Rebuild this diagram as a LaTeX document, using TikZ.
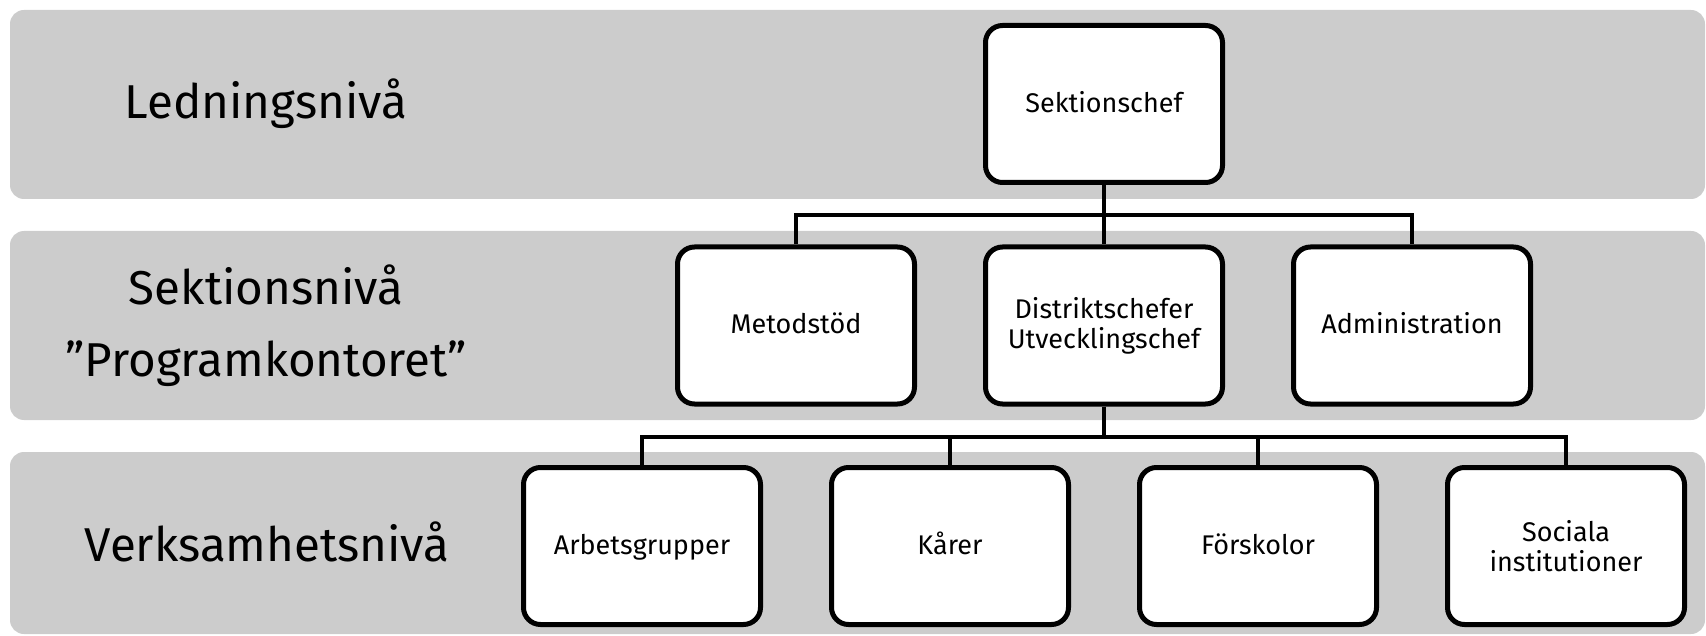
\documentclass[tikz,border=0pt]{standalone}
\usepackage{fontspec}
\setmainfont{Fira Sans}
\definecolor{bandgray}{HTML}{CCCCCC}
\begin{document}
\begin{tikzpicture}[x=1pt,y=-1pt,
  band/.style={fill=bandgray, rounded corners=14pt},
  unit/.style={draw=black, line width=5pt, fill=white, rounded corners=17pt,
    minimum width=237pt, minimum height=157pt, align=center, inner sep=0pt,
    font=\fontsize{27}{30}\selectfont},
  oneline/.style={unit, text height=17pt, text depth=0pt},
  level/.style={font=\fontsize{47.5}{67}\selectfont, anchor=base, inner sep=0pt},
  link/.style={line width=4.5pt, line join=miter}]
\useasboundingbox (0,0) rectangle (1706,636);
\fill[band] (10,10) rectangle (1705,199);
\fill[band] (10,231) rectangle (1705,420);
\fill[band] (10,452) rectangle (1705,634);

\coordinate (bus1) at (1104,215);
\coordinate (bus2) at (1104,437);

\node[oneline] (chef) at (1104,104) {Sektionschef};
\node[oneline] (metod) at (796,325.5) {Metodstöd};
\node[unit] (dist) at (1104,325.5) {Distriktschefer\\Utvecklingschef};
\node[oneline] (adm) at (1412,325.5) {Administration};
\node[oneline] (arb) at (642,546) {Arbetsgrupper};
\node[oneline] (kar) at (950,546) {Kårer};
\node[oneline] (fors) at (1258,546) {Förskolor};
\node[unit] (soc) at (1566,546) {Sociala\\institutioner};

\draw[link] (chef.south) -- (dist.north);
\draw[link] (metod.north) |- (bus1) -| (adm.north);
\draw[link] (dist.south) -- (bus2);
\draw[link] (arb.north) |- (bus2) -| (soc.north);
\draw[link] (kar.north) -- (kar.north |- bus2);
\draw[link] (fors.north) -- (fors.north |- bus2);

\node[level] (l1) at (266,119) {Ledningsnivå};
\node[level] (l2a) at (266,304.5) {Sektionsnivå};
\node[level] (l2b) at (266,376.5) {”Programkontoret”};
\node[level] (l3) at (267,561) {Verksamhetsnivå};
\end{tikzpicture}
\end{document}
